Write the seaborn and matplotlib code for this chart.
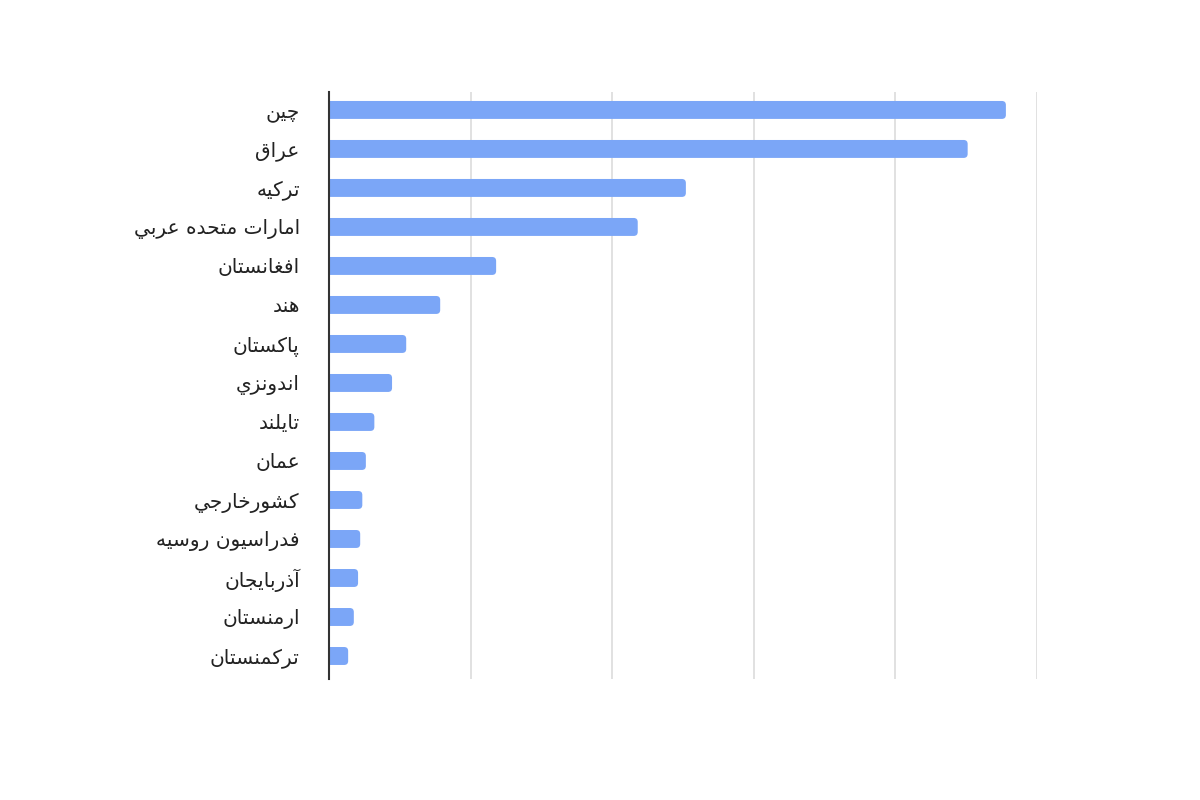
import matplotlib
matplotlib.use('Agg')
import matplotlib.pyplot as plt
import seaborn as sns
from matplotlib.patches import FancyBboxPatch

sns.set_style('white')
plt.rcParams['font.family'] = ['DejaVu Sans']

countries = [
    'چین', 'عراق', 'ترکیه', 'امارات متحده عربي', 'افغانستان', 'هند',
    'پاکستان', 'اندونزي', 'تایلند', 'عمان', 'کشورخارجي',
    'فدراسیون روسیه', 'آذربایجان', 'ارمنستان', 'ترکمنستان',
]
values = [95.6, 90.2, 50.4, 43.6, 23.6, 15.7, 10.9, 8.9, 6.4, 5.2, 4.7,
          4.4, 4.1, 3.5, 2.7]

BAR = '#7ba6f7'

# presentation forms: isolated, final, initial, medial
FORMS = {
    'ا': (0xFE8D, 0xFE8E), 'آ': (0xFE81, 0xFE82),
    'ب': (0xFE8F, 0xFE90, 0xFE91, 0xFE92), 'ت': (0xFE95, 0xFE96, 0xFE97, 0xFE98),
    'ج': (0xFE9D, 0xFE9E, 0xFE9F, 0xFEA0), 'ح': (0xFEA1, 0xFEA2, 0xFEA3, 0xFEA4),
    'خ': (0xFEA5, 0xFEA6, 0xFEA7, 0xFEA8), 'د': (0xFEA9, 0xFEAA),
    'ذ': (0xFEAB, 0xFEAC), 'ر': (0xFEAD, 0xFEAE), 'ز': (0xFEAF, 0xFEB0),
    'س': (0xFEB1, 0xFEB2, 0xFEB3, 0xFEB4), 'ش': (0xFEB5, 0xFEB6, 0xFEB7, 0xFEB8),
    'ع': (0xFEC9, 0xFECA, 0xFECB, 0xFECC), 'غ': (0xFECD, 0xFECE, 0xFECF, 0xFED0),
    'ف': (0xFED1, 0xFED2, 0xFED3, 0xFED4), 'ق': (0xFED5, 0xFED6, 0xFED7, 0xFED8),
    'ك': (0xFED9, 0xFEDA, 0xFEDB, 0xFEDC), 'ل': (0xFEDD, 0xFEDE, 0xFEDF, 0xFEE0),
    'م': (0xFEE1, 0xFEE2, 0xFEE3, 0xFEE4), 'ن': (0xFEE5, 0xFEE6, 0xFEE7, 0xFEE8),
    'ه': (0xFEE9, 0xFEEA, 0xFEEB, 0xFEEC), 'و': (0xFEED, 0xFEEE),
    'ي': (0xFEF1, 0xFEF2, 0xFEF3, 0xFEF4),
    'پ': (0xFB56, 0xFB57, 0xFB58, 0xFB59), 'چ': (0xFB7A, 0xFB7B, 0xFB7C, 0xFB7D),
    'ک': (0xFB8E, 0xFB8F, 0xFB90, 0xFB91), 'ی': (0xFBFC, 0xFBFD, 0xFBFE, 0xFBFF),
}


def shape(text):
    # matplotlib has no arabic shaping, so pick the joined forms by hand
    out = []
    n = len(text)
    for i, ch in enumerate(text):
        f = FORMS.get(ch)
        if f is None:
            out.append(ch)
            continue
        prev = FORMS.get(text[i - 1]) if i > 0 else None
        nxt = FORMS.get(text[i + 1]) if i < n - 1 else None
        join_prev = prev is not None and len(prev) == 4
        join_next = nxt is not None and len(f) == 4
        if join_prev and join_next:
            code = f[3]
        elif join_prev:
            code = f[1]
        elif join_next:
            code = f[2]
        else:
            code = f[0]
        out.append(chr(code))
    return ''.join(reversed(out))


labels = [shape(c) for c in countries]

fig = plt.figure(figsize=(12, 8), dpi=100)
ax = fig.add_axes([0.2742, 0.15125, 0.59, 0.73375])
sns.barplot(x=values, y=labels, color=BAR, width=0.46, saturation=1,
            orient='h', ax=ax)

ax.set_xlim(0, 100)
ax.set_ylim(14.59, -0.46)
ax.set_xticks(range(0, 101, 20))
ax.set_xticklabels([])
ax.set_xlabel('')
ax.set_ylabel('')
ax.grid(axis='x', color='#dedede', linewidth=1.3)
ax.set_axisbelow(True)
for s in ['top', 'right', 'bottom']:
    ax.spines[s].set_visible(False)
ax.spines['left'].set_color('#333333')
ax.spines['left'].set_linewidth(1.5)
ax.spines['left'].set_zorder(5)
ax.tick_params(axis='x', length=0)
ax.tick_params(axis='y', length=0, pad=21, labelsize=14.5,
               labelcolor='#222222')

# rounded bar ends
p0 = ax.transData.transform((0, 0))
px_x = ax.transData.transform((1, 0))[0] - p0[0]
px_y = abs(ax.transData.transform((0, 1))[1] - p0[1])
r = 4 / px_x
for p in list(ax.patches):
    x, y, w, h = p.get_x(), p.get_y(), p.get_width(), p.get_height()
    p.remove()
    ax.add_patch(FancyBboxPatch(
        (x - 2, y), w + 2, h,
        boxstyle=f'round,pad=0,rounding_size={r}',
        mutation_aspect=px_x / px_y,
        facecolor=BAR, edgecolor='none', zorder=2))

fig.savefig('out.png', dpi=100, facecolor='white')
